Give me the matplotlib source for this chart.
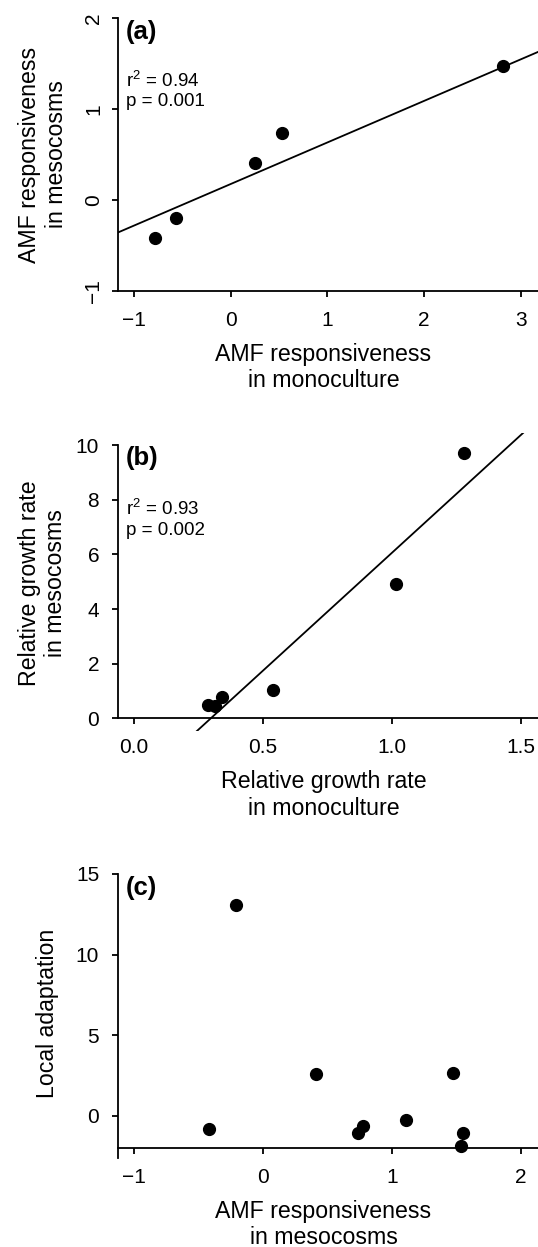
import numpy as np
import matplotlib
matplotlib.use("Agg")
import matplotlib.pyplot as plt

plt.rcParams['font.family'] = ['Liberation Sans', 'DejaVu Sans']
plt.rcParams['mathtext.fontset'] = 'custom'
plt.rcParams['mathtext.rm'] = 'Liberation Sans'
plt.rcParams['mathtext.it'] = 'Liberation Sans'

# panel (a): AMF responsiveness, monoculture vs mesocosms
a_x = [-0.784, -0.564, 0.248, 0.528, 2.819]
a_y = [-0.415, -0.203, 0.411, 0.736, 1.470]
a_slope, a_icpt = 0.458, 0.174
a_xticks = [-1, 0, 1, 2, 3]
a_yticks = [-1, 0, 1, 2]

# panel (b): relative growth rate
b_x = [0.288, 0.313, 0.343, 0.540, 1.016, 1.280]
b_y = [0.50, 0.45, 0.77, 1.04, 4.92, 9.71]
b_slope, b_icpt = 8.62, -2.56
b_xticks = [0.0, 0.5, 1.0, 1.5]
b_yticks = [0, 2, 4, 6, 8, 10]

# panel (c): local adaptation
c_x = [-0.207, -0.415, 0.412, 0.737, 0.777, 1.110, 1.476, 1.548, 1.535]
c_y = [13.05, -0.83, 2.57, -1.10, -0.64, -0.27, 2.65, -1.10, -1.86]
c_xticks = [-1, 0, 1, 2]
c_yticks = [0, 5, 10, 15]

W, H = 538, 1247
fig = plt.figure(figsize=(W / 100, H / 100), dpi=100)


def box(l, t, r, b):
    return [l / W, 1 - b / H, (r - l) / W, (b - t) / H]


def ftext(x, y, s, **kw):
    fig.text(x / W, 1 - y / H, s, **kw)


LW = 1.3
TICK = 15
LAB = 16.7
MS = 8.5


def setup(ax, xlim, ylim, xt, yt, ybounds, xpos):
    ax.set_xlim(xlim)
    ax.set_ylim(ylim)
    ax.set_xticks(xt)
    ax.set_yticks(yt)
    for s in ['top', 'right']:
        ax.spines[s].set_visible(False)
    ax.spines['left'].set_bounds(*ybounds)
    ax.spines['bottom'].set_position(('data', xpos))
    for s in ['left', 'bottom']:
        ax.spines[s].set_linewidth(LW)
    ax.tick_params(direction='out', length=4.3, width=LW, labelsize=TICK, color='black')
    ax.tick_params(axis='x', pad=10)
    ax.tick_params(axis='y', pad=9)
    ax.patch.set_alpha(0)


# (a)
ax = fig.add_axes(box(117.7, 7.4, 538, 301.6))
setup(ax, (-1.166, 3.178), (-1.12, 2.12), a_xticks, a_yticks, (-1, 2), -1)
ax.tick_params(axis='y', labelrotation=90, pad=6)
for lab in ax.get_yticklabels():
    lab.set_va('center')
xx = np.array(ax.get_xlim())
ax.plot(xx, a_slope * xx + a_icpt, color='black', lw=LW)
ax.plot(a_x, a_y, 'o', color='black', markersize=MS)
ftext(126, 32.3, '(a)', fontsize=18.5, fontweight='bold', va='center')
ftext(125.5, 87.3, 'r$^2$ = 0.94', fontsize=13.5, va='baseline')
ftext(125.5, 106, 'p = 0.001', fontsize=13.5, va='baseline')
ftext(323.5, 361, 'AMF responsiveness', fontsize=LAB, ha='center', va='baseline')
ftext(323.5, 387, 'in monoculture', fontsize=LAB, ha='center', va='baseline')
ftext(36, 154.5, 'AMF responsiveness', fontsize=LAB, rotation=90,
      rotation_mode='anchor', ha='center', va='baseline')
ftext(63, 154.5, 'in mesocosms', fontsize=LAB, rotation=90,
      rotation_mode='anchor', ha='center', va='baseline')

# (b)
ax = fig.add_axes(box(117.7, 432.7, 538, 730.8))
setup(ax, (-0.0632, 1.566), (-0.45, 10.45), b_xticks, b_yticks, (0, 10), 0)
ax.xaxis.set_major_formatter(matplotlib.ticker.FormatStrFormatter('%.1f'))
xx = np.array(ax.get_xlim())
ax.plot(xx, b_slope * xx + b_icpt, color='black', lw=LW)
ax.plot(b_x, b_y, 'o', color='black', markersize=MS)
ftext(126, 458.3, '(b)', fontsize=18.5, fontweight='bold', va='center')
ftext(125.5, 515, 'r$^2$ = 0.93', fontsize=13.5, va='baseline')
ftext(125.5, 535, 'p = 0.002', fontsize=13.5, va='baseline')
ftext(323.5, 788, 'Relative growth rate', fontsize=LAB, ha='center', va='baseline')
ftext(323.5, 815, 'in monoculture', fontsize=LAB, ha='center', va='baseline')
ftext(36, 583, 'Relative growth rate', fontsize=LAB, rotation=90,
      rotation_mode='anchor', ha='center', va='baseline')
ftext(62, 583, 'in mesocosms', fontsize=LAB, rotation=90,
      rotation_mode='anchor', ha='center', va='baseline')

# (c)
ax = fig.add_axes(box(117.7, 864.3, 538, 1158.4))
setup(ax, (-1.125, 2.132), (-2.65, 15.6), c_xticks, c_yticks, (-2.65, 15), -2.03)
ax.plot(c_x, c_y, 'o', color='black', markersize=MS)
ftext(126, 888.3, '(c)', fontsize=18.5, fontweight='bold', va='center')
ftext(323.5, 1218, 'AMF responsiveness', fontsize=LAB, ha='center', va='baseline')
ftext(323.5, 1244, 'in mesocosms', fontsize=LAB, ha='center', va='baseline')
ftext(54, 1013, 'Local adaptation', fontsize=LAB, rotation=90,
      rotation_mode='anchor', ha='center', va='baseline')

fig.savefig('out.png', dpi=100)
